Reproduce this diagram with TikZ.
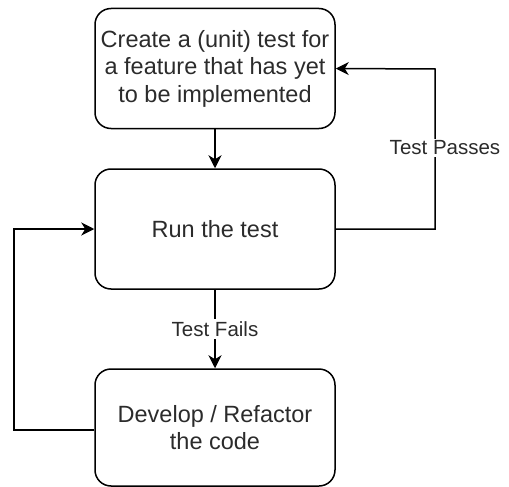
\documentclass[tikz,border=0pt]{standalone}
\usepackage{fontspec}
\setmainfont{Liberation Sans}
\usetikzlibrary{arrows.meta}
\definecolor{txt}{HTML}{2B2B2B}
\tikzset{
  x=1pt,y=-1pt,
  box/.style={draw=black,line width=1.5pt,rounded corners=16pt,minimum width=240pt,minimum height=120pt,inner sep=0pt,align=center,text=txt,font=\fontsize{23.5}{27.5}\selectfont},
  conn/.style={draw=black,line width=1.5pt,-{Stealth[length=13pt,width=13pt,inset=4pt]}},
  lbl/.style={fill=white,text=txt,font=\fontsize{20.5}{24}\selectfont,inner sep=2pt}
}
\begin{document}
\begin{tikzpicture}
\useasboundingbox (0,0) rectangle (509,487);
\node[box] (create) at (215,68.5) {Create a (unit) test for\\a feature that has yet\\to be implemented};
\node[box] (run) at (215,229) {Run the test};
\node[box,minimum height=117pt] (dev) at (215,427.5) {Develop / Refactor\\the code};
\coordinate (rr) at (435,229);
\coordinate (rt) at (435,69);
\coordinate (ll) at (14,430);
\coordinate (lt) at (14,229);
\draw[conn] (create.south) -- (run.north);
\draw[conn] (run.south) -- node[lbl] {Test Fails} (dev.north);
\draw[conn] (run.east) -- (rr) -- (rt) -- (create.east);
\node[lbl] (passes) at (445,148) {Test Passes};
\draw[conn] (dev.west |- ll) -- (ll) -- (lt) -- (run.west);
\end{tikzpicture}
\end{document}
